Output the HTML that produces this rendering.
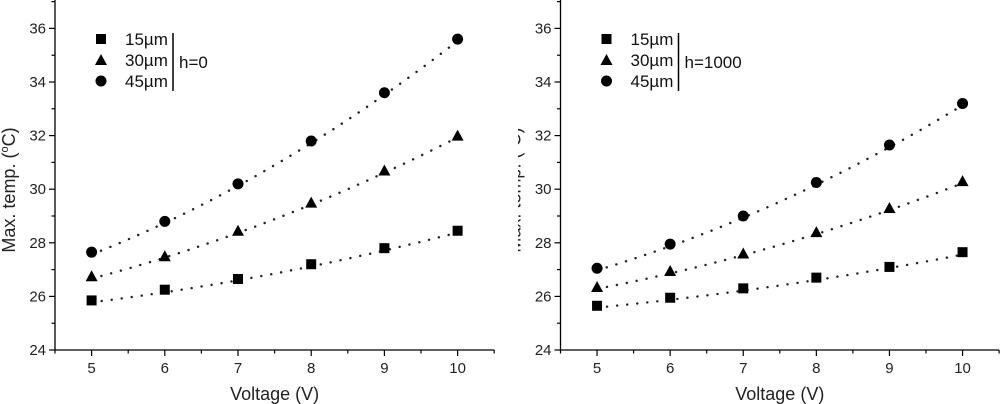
<!DOCTYPE html>
<html><head><meta charset="utf-8"><style>
body{margin:0;background:#fff}
svg{display:block;font-family:"Liberation Sans",Arial,sans-serif}
</style></head><body>
<svg id="c" width="1000" height="404" viewBox="0 0 1000 404"></svg>
<script>
const voltages=[5,6,7,8,9,10];
const seriesNames=["15µm","30µm","45µm"];
const markers=["square","triangle","circle"];
const leftH0_15=[25.85,26.25,26.65,27.2,27.8,28.45];
const leftH0_30=[26.75,27.5,28.45,29.5,30.7,32.0];
const leftH0_45=[27.65,28.8,30.2,31.8,33.6,35.6];
const rightH1000_15=[25.65,25.95,26.3,26.7,27.1,27.65];
const rightH1000_30=[26.35,26.95,27.6,28.4,29.3,30.3];
const rightH1000_45=[27.05,27.95,29.0,30.25,31.65,33.2];
const yTicks=[24,26,28,30,32,34,36];
const xTicks=[5,6,7,8,9,10];
const NS="http://www.w3.org/2000/svg";
const svg=document.getElementById('c');
function mk(tag,attrs,parent){const e=document.createElementNS(NS,tag);for(const k in attrs)e.setAttribute(k,attrs[k]);(parent||svg).appendChild(e);return e;}
function fitQuad(xs,ys){let S=[0,0,0,0,0],T=[0,0,0];for(let i=0;i<xs.length;i++){let x=xs[i]-7.5;for(let p=0;p<5;p++)S[p]+=Math.pow(x,p);for(let p=0;p<3;p++)T[p]+=ys[i]*Math.pow(x,p);}
const A=[[S[0],S[1],S[2],T[0]],[S[1],S[2],S[3],T[1]],[S[2],S[3],S[4],T[2]]];
for(let i=0;i<3;i++){for(let j=i+1;j<3;j++){const f=A[j][i]/A[i][i];for(let k=i;k<4;k++)A[j][k]-=f*A[i][k];}}
const c=[0,0,0];for(let i=2;i>=0;i--){let s=A[i][3];for(let k=i+1;k<3;k++)s-=A[i][k]*c[k];c[i]=s/A[i][i];}
return x=>c[0]+c[1]*(x-7.5)+c[2]*(x-7.5)*(x-7.5);}
function panel(cfg){
 const g=mk('g',{});
 
 
 const X=v=>cfg.x0+(v-4.5)*cfg.ux, Y=v=>350-(v-24)*26.8;
 const ax=mk('path',{d:`M${cfg.x0},0 V350 H${X(10.5)}`,stroke:'#000','stroke-width':1.3,fill:'none'},g);
 
 for(let v=24;v<=37;v++){mk('line',{x1:cfg.x0,x2:cfg.x0-(v%2==0?6:3.5),y1:Y(v),y2:Y(v),stroke:'#000','stroke-width':1.2},g);}
 yTicks.forEach(v=>{const t=mk('text',{x:cfg.x0-9,y:Y(v)+5,'text-anchor':'end','font-size':15,fill:'#222'},g);t.textContent=v;});
 for(let v=4.5;v<=10.51;v+=0.5){mk('line',{x1:X(v),x2:X(v),y1:350,y2:350+(Number.isInteger(v)?6:3.5),stroke:'#000','stroke-width':1.2},g);}
 xTicks.forEach(v=>{const t=mk('text',{x:X(v),y:373,'text-anchor':'middle','font-size':15,fill:'#222'},g);t.textContent=v;});
 const xt=mk('text',{x:X(7.5),y:400,'text-anchor':'middle','font-size':18,fill:'#222'},g);xt.textContent='Voltage (V)';
 
 const yt=mk('text',{transform:`translate(${cfg.x0-40},190) rotate(-90)`,'text-anchor':'middle','font-size':18,fill:'#222'},g);
 yt.innerHTML='Max. temp. (<tspan font-size="11" dy="-7">o</tspan><tspan dy="7">C)</tspan>';
 
 cfg.data.forEach((ys,si)=>{
  const f=fitQuad(voltages,ys);let d='';
  for(let v=5;v<=10.001;v+=0.05)d+=(d?'L':'M')+X(v).toFixed(1)+','+(Y(f(v))+2).toFixed(1);
  const ln=mk('path',{d,fill:'none',stroke:'#222','stroke-width':2.4,'stroke-dasharray':'0.1 10','stroke-linecap':'round'},g);
  
  ys.forEach((y,i)=>{const m=marker(markers[si],X(voltages[i]),Y(y),g);});
 });
 const lx=cfg.x0+46;
 seriesNames.forEach((n,i)=>{const yy=39+i*21;const m=marker(markers[i],lx,yy,g);
  const t=mk('text',{x:lx+24,y:yy+6,'font-size':17,fill:'#111'},g);t.textContent=n;});
 mk('line',{x1:lx+72,x2:lx+72,y1:33,y2:91,stroke:'#000','stroke-width':1.5},g);
 const h=mk('text',{x:lx+78,y:68,'font-size':17,fill:'#111'},g);h.textContent=cfg.h;
}
function marker(type,x,y,g){
 if(type=='square')return mk('rect',{x:x-5,y:y-5,width:10,height:10,fill:'#000'},g);
 if(type=='triangle')return mk('path',{d:`M${x},${y-6} L${x+6},${y+5} L${x-6},${y+5}Z`,fill:'#000'},g);
 return mk('circle',{cx:x,cy:y,r:5.5,fill:'#000'},g);
}
panel({name:'left-panel-h0',x0:55,ux:73.2,h:'h=0',data:[leftH0_15,leftH0_30,leftH0_45]});
const cover=mk('rect',{x:500,y:0,width:20,height:404,fill:'#fff'});
panel({name:'right-panel-h1000',x0:560.5,ux:73.1,h:'h=1000',data:[rightH1000_15,rightH1000_30,rightH1000_45]});
mk('rect',{x:496,y:0,width:22,height:404,fill:'#fff'});
</script>
</body></html>
